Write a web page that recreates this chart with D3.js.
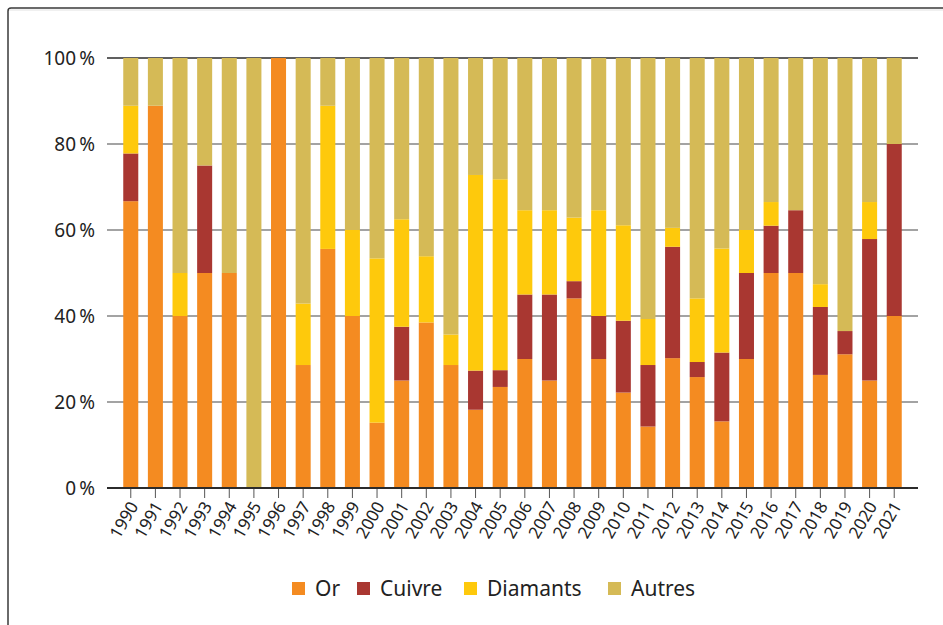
<!DOCTYPE html>
<html>
<head>
<meta charset="utf-8">
<script src="https://cdn.jsdelivr.net/npm/d3@7"></script>
<style>
  body { margin: 0; background: #fff; }
  svg { display: block; font-family: "Noto Sans", sans-serif; }
</style>
</head>
<body>
<svg width="943" height="625"></svg>
<script>
// data (share in %)
var years = ['1990','1991','1992','1993','1994','1995','1996','1997','1998','1999','2000','2001','2002','2003','2004','2005',
             '2006','2007','2008','2009','2010','2011','2012','2013','2014','2015','2016','2017','2018','2019','2020','2021'];
var or       = [66.7, 88.9, 40, 50, 50, 0, 100, 28.6, 55.6, 40, 15.2, 25, 38.5, 28.6, 18.2, 23.5,
                30, 25, 44.1, 30, 22.2, 14.3, 30.2, 25.8, 15.5, 30, 50, 50, 26.3, 31.1, 25, 40];
var cuivre   = [11.1, 0, 0, 25, 0, 0, 0, 0, 0, 0, 0, 12.5, 0, 0, 9.1, 3.9,
                15, 20, 4, 10, 16.7, 14.3, 25.9, 3.5, 16, 20, 11, 14.6, 15.8, 5.4, 32.9, 40];
var diamants = [11.1, 0, 10, 0, 0, 0, 0, 14.3, 33.3, 20, 38.2, 25, 15.4, 7.1, 45.5, 44.4,
                19.6, 19.6, 14.8, 24.6, 22.2, 10.7, 4.4, 14.8, 24.2, 10, 5.5, 0, 5.3, 0, 8.6, 0];
var autres   = [11.1, 11.1, 50, 25, 50, 100, 0, 57.1, 11.1, 40, 46.6, 37.5, 46.1, 64.3, 27.2, 28.2,
                35.4, 35.4, 37.1, 35.4, 38.9, 60.7, 39.5, 55.9, 44.3, 40, 33.5, 35.4, 52.6, 63.5, 33.5, 20];
var series = ['Or', 'Cuivre', 'Diamants', 'Autres'];
var colors = ['#f48b21', '#a93731', '#fec90c', '#d5ba56'];
var yTicks = [0, 20, 40, 60, 80, 100];

var table = years.map(function(y, i) {
  return { year: y, Or: or[i], Cuivre: cuivre[i], Diamants: diamants[i], Autres: autres[i] };
});

var svg = d3.select('svg');

// frame
svg.append('rect').attr('x', 8).attr('y', 8).attr('width', 1000).attr('height', 1000).attr('rx', 3)
  .attr('fill', 'none').attr('stroke', '#3a3a3a').attr('stroke-width', 1.5);
svg.append('line').attr('x1', 9).attr('x2', 943).attr('y1', 10).attr('y2', 10)
  .attr('stroke', '#e2e2e2').attr('stroke-width', 1);

var x = d3.scaleBand().domain(years).range([107, 918]).paddingInner(0.39).paddingOuter(0.66);
var y = d3.scaleLinear().domain([0, 100]).range([488, 58]);
var color = d3.scaleOrdinal().domain(series).range(colors);

// grid
svg.append('g').selectAll('line').data(yTicks.filter(function(t) { return t > 0; })).join('line')
  .attr('x1', 107).attr('x2', 918)
  .attr('y1', function(d) { return y(d); }).attr('y2', function(d) { return y(d); })
  .attr('stroke', function(d) { return d === 100 ? '#2b2b2b' : '#858585'; })
  .attr('stroke-width', 1.5);

// y labels
svg.append('g').selectAll('text').data(yTicks).join('text')
  .attr('x', 95).attr('y', function(d) { return y(d); }).attr('dy', '0.35em')
  .attr('text-anchor', 'end').attr('font-size', 19).attr('fill', '#222')
  .text(function(d) { return d + '\u202F%'; });

// bars
var stacked = d3.stack().keys(series)(table);
svg.append('g').selectAll('g').data(stacked).join('g')
  .attr('fill', function(d) { return color(d.key); })
  .selectAll('rect').data(function(d) { return d; }).join('rect')
  .attr('x', function(d) { return x(d.data.year); })
  .attr('width', x.bandwidth())
  .attr('y', function(d) { return y(d[1]); })
  .attr('height', function(d) { return y(d[0]) - y(d[1]); });

// x axis
var xAxis = svg.append('g').attr('transform', 'translate(0,488)')
  .call(d3.axisBottom(x).tickSize(10).tickSizeOuter(0));
xAxis.select('.domain').remove();
xAxis.selectAll('.tick line').attr('stroke', '#555').attr('stroke-width', 1);
xAxis.selectAll('.tick text')
  .attr('font-size', 17).attr('fill', '#222').attr('font-family', '"Noto Sans", sans-serif')
  .attr('text-anchor', 'end').attr('dy', null).attr('y', 0)
  .attr('transform', 'translate(8,18) rotate(-60)');
svg.append('line').attr('x1', 107).attr('x2', 918).attr('y1', 488).attr('y2', 488)
  .attr('stroke', '#2b2b2b').attr('stroke-width', 2);

// legend
var legendX = [292, 357, 464, 608];
var lg = svg.append('g').selectAll('g').data(series).join('g')
  .attr('transform', function(d, i) { return 'translate(' + legendX[i] + ',582)'; });
lg.append('rect').attr('width', 13).attr('height', 13).attr('fill', function(d) { return color(d); });
lg.append('text').attr('x', 23).attr('y', 7).attr('dy', '0.35em')
  .attr('font-size', 21).attr('fill', '#222').text(function(d) { return d; });
</script>
</body>
</html>
